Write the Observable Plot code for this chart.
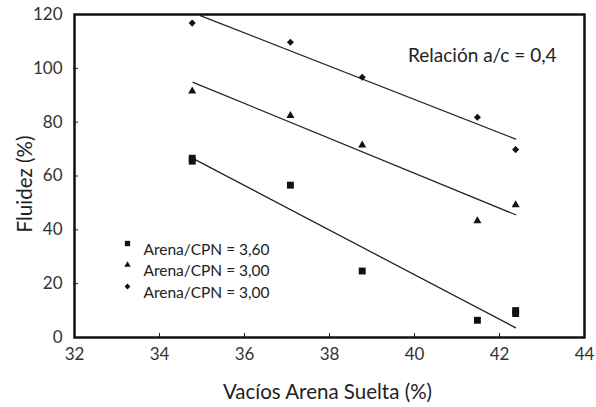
<!DOCTYPE html>
<html>
<head>
<meta charset="utf-8">
<script src="https://cdn.jsdelivr.net/npm/d3@7"></script>
<script src="https://cdn.jsdelivr.net/npm/@observablehq/plot@0.6"></script>
<style>
  html, body { margin: 0; padding: 0; background: #fff; }
</style>
</head>
<body>
<div id="chart"></div>
<script>
// Data
const xTicks = [32, 34, 36, 38, 40, 42, 44];
const yTicks = [0, 20, 40, 60, 80, 100, 120];

const sqX = [34.77, 34.77, 37.08, 38.77, 41.48, 42.38, 42.38];
const sqY = [65.5, 66.6, 56.6, 24.7, 6.4, 8.9, 10.0];

const triX = [34.77, 37.08, 38.77, 41.48, 42.38];
const triY = [91.5, 82.4, 71.5, 43.3, 49.3];

const diaX = [34.77, 37.08, 38.77, 41.48, 42.38];
const diaY = [116.8, 109.7, 96.7, 81.8, 69.8];

// Trend lines (end points)
const sqFitX = [34.85, 42.38];
const sqFitY = [66.0, 3.6];
const triFitX = [34.79, 42.38];
const triFitY = [94.8, 45.6];
const diaFitX = [34.96, 42.38];
const diaFitY = [119.6, 73.7];

const legendLabels = ["Arena/CPN = 3,60", "Arena/CPN = 3,00", "Arena/CPN = 3,00"];
const legendSymbols = ["square", "triangle", "diamond2"];
const annotation = "Relación a/c = 0,4";
const xLabel = "Vacíos Arena Suelta (%)";
const yLabel = "Fluidez (%)";

const pts = (xs, ys) => xs.map((x, i) => ({x, y: ys[i]}));

const ink = "#111";
const symR = {square: 3.9, triangle: 3.0, diamond2: 3.2};
const legR = {square: 3.0, triangle: 2.4, diamond2: 2.6};

const legendMarks = legendLabels.flatMap((label, i) => [
  Plot.dot([0], {frameAnchor: "top-left", dx: 53, dy: 229 + i * 21.5, symbol: legendSymbols[i], r: legR[legendSymbols[i]], fill: ink, stroke: "none"}),
  Plot.text([label], {frameAnchor: "top-left", dx: 69, dy: 229 + i * 21.5, text: d => d, textAnchor: "start", fontSize: 15.5, fill: "#222"})
]);

const chart = Plot.plot({
  width: 596,
  height: 407,
  marginLeft: 74,
  marginRight: 12,
  marginTop: 14,
  marginBottom: 70,
  style: {fontFamily: "Lato, 'Open Sans', sans-serif", background: "#fff", color: "#222"},
  x: {domain: [32, 44]},
  y: {domain: [0, 120]},
  marks: [
    Plot.axisX(xTicks, {tickSize: -4, tickPadding: 14, fontSize: 17, fill: "#333", label: null}),
    Plot.axisY(yTicks, {tickSize: -4, tickPadding: 16, fontSize: 17, fill: "#333", label: null}),
    Plot.text([xLabel], {frameAnchor: "bottom", dy: 55, lineAnchor: "middle", textAnchor: "middle", text: d => d, fontSize: 20.5, fill: "#222", dx: -2}),
    Plot.text([yLabel], {frameAnchor: "left", dx: -49, dy: 8, rotate: -90, lineAnchor: "middle", textAnchor: "middle", text: d => d, fontSize: 20.5, fill: "#222"}),
    Plot.line(pts(sqFitX, sqFitY), {x: "x", y: "y", stroke: "#222", strokeWidth: 1.3}),
    Plot.line(pts(triFitX, triFitY), {x: "x", y: "y", stroke: "#222", strokeWidth: 1.3}),
    Plot.line(pts(diaFitX, diaFitY), {x: "x", y: "y", stroke: "#222", strokeWidth: 1.3}),
    Plot.dot(pts(sqX, sqY), {x: "x", y: "y", symbol: "square", r: symR.square, fill: ink, stroke: "none"}),
    Plot.dot(pts(triX, triY), {x: "x", y: "y", symbol: "triangle", r: symR.triangle, fill: ink, stroke: "none"}),
    Plot.dot(pts(diaX, diaY), {x: "x", y: "y", symbol: "diamond2", r: symR.diamond2, fill: ink, stroke: "none"}),
    ...legendMarks,
    Plot.text([annotation], {frameAnchor: "top-right", dx: -28, dy: 34, text: d => d, textAnchor: "end", fontSize: 19, fill: "#222"}),
    Plot.frame({stroke: "#111", strokeWidth: 2.5})
  ]
});
document.getElementById("chart").appendChild(chart);
</script>
</body>
</html>
